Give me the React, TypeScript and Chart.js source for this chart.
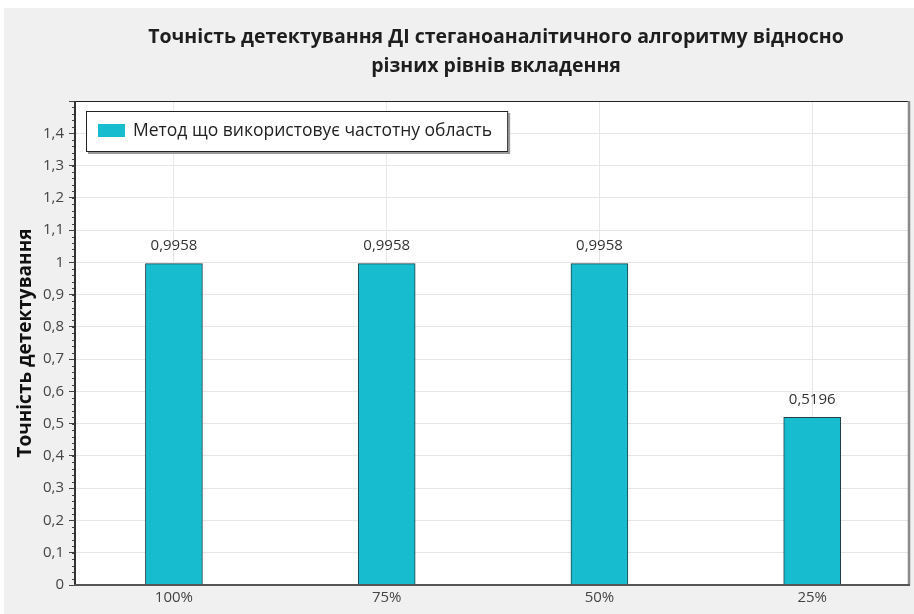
import React, { useEffect, useRef } from "react";
import { Chart, registerables } from "chart.js";

Chart.register(...registerables);

const titleLines = [
  "Точність детектування ДІ стеганоаналітичного алгоритму відносно",
  "різних рівнів вкладення",
];
const categories = ["100%", "75%", "50%", "25%"];
const seriesLabel = "Метод що використовує частотну область";
const seriesValues = [0.9958, 0.9958, 0.9958, 0.5196];
const yAxisTitle = "Точність детектування";
const yMin = 0;
const yMax = 1.5;
const yStep = 0.1;
const yMinorStep = 0.02;
const xMin = -0.465;
const xMax = 3.455;

const FONT = "'Open Sans', 'Noto Sans', sans-serif";
const BAR_COLOR = "#17bdcf";
const BAR_BORDER = "#1d3f45";

const fmt = (v: number, d: number) => {
  const r = Math.round(v * Math.pow(10, d)) / Math.pow(10, d);
  return String(r).replace(".", ",");
};

const areaBgPlugin = {
  id: "areaBg",
  beforeDraw(chart: any) {
    const { ctx, chartArea: a } = chart;
    ctx.save();
    ctx.fillStyle = "#ffffff";
    ctx.fillRect(a.left, a.top, a.right - a.left, a.bottom - a.top);
    ctx.restore();
  },
};

const titlePlugin = {
  id: "customTitle",
  afterDraw(chart: any) {
    const { ctx, chartArea: a } = chart;
    const cx = (a.left + a.right) / 2 + 4;
    ctx.save();
    ctx.fillStyle = "#1e1e1e";
    ctx.font = `bold 19.5px ${FONT}`;
    ctx.textAlign = "center";
    ctx.textBaseline = "middle";
    ctx.fillText(titleLines[0], cx, 29);
    ctx.fillText(titleLines[1], cx, 58);
    ctx.restore();
  },
};

const framePlugin = {
  id: "frame",
  afterDatasetsDraw(chart: any) {
    const { ctx, chartArea: a } = chart;
    const ys = chart.scales.y;
    ctx.save();
    ctx.strokeStyle = "#444";
    ctx.lineWidth = 1;
    const n = Math.round((yMax - yMin) / yMinorStep);
    for (let i = 0; i <= n; i++) {
      const v = yMin + i * yMinorStep;
      const py = Math.round(ys.getPixelForValue(v)) + 0.5;
      ctx.beginPath();
      ctx.moveTo(a.left - 3, py);
      ctx.lineTo(a.left, py);
      ctx.stroke();
    }
    ctx.strokeStyle = "#222";
    ctx.lineWidth = 1;
    ctx.beginPath();
    ctx.moveTo(a.left, a.top + 0.5);
    ctx.lineTo(a.right, a.top + 0.5);
    ctx.stroke();
    ctx.strokeStyle = "#8a8a8a";
    ctx.lineWidth = 2.5;
    ctx.beginPath();
    ctx.moveTo(a.right, a.top);
    ctx.lineTo(a.right, a.bottom);
    ctx.stroke();
    ctx.strokeStyle = "#333";
    ctx.lineWidth = 2;
    ctx.beginPath();
    ctx.moveTo(a.left, a.top);
    ctx.lineTo(a.left, a.bottom + 1);
    ctx.stroke();
    ctx.strokeStyle = "#555";
    ctx.lineWidth = 2;
    ctx.beginPath();
    ctx.moveTo(a.left - 1, a.bottom);
    ctx.lineTo(a.right + 1, a.bottom);
    ctx.stroke();
    ctx.restore();
  },
};

const valueLabelPlugin = {
  id: "valueLabels",
  afterDatasetsDraw(chart: any) {
    const { ctx } = chart;
    const meta = chart.getDatasetMeta(0);
    ctx.save();
    ctx.fillStyle = "#333";
    ctx.font = `15px ${FONT}`;
    ctx.textAlign = "center";
    ctx.textBaseline = "bottom";
    meta.data.forEach((el: any, i: number) => {
      ctx.fillText(fmt(seriesValues[i], 4), el.x, el.y - 10);
    });
    ctx.restore();
  },
};

const legendPlugin = {
  id: "boxLegend",
  afterDraw(chart: any) {
    const { ctx, chartArea: a } = chart;
    const ds = chart.data.datasets[0];
    ctx.save();
    ctx.font = `17.5px ${FONT}`;
    const tw = ctx.measureText(ds.label).width;
    const x = a.left + 11;
    const y = a.top + 10;
    const h = 41;
    const w = 12 + 27 + 8 + tw + 16;
    ctx.fillStyle = "#9a9a9a";
    ctx.fillRect(x + 2, y + 2, w, h);
    ctx.fillStyle = "#ffffff";
    ctx.fillRect(x, y, w, h);
    ctx.strokeStyle = "#222";
    ctx.lineWidth = 1;
    ctx.strokeRect(x + 0.5, y + 0.5, w - 1, h - 1);
    ctx.fillStyle = ds.backgroundColor;
    ctx.fillRect(x + 12, y + 13, 27, 13);
    ctx.fillStyle = "#222";
    ctx.textAlign = "left";
    ctx.textBaseline = "middle";
    ctx.fillText(ds.label, x + 12 + 27 + 8, y + h / 2);
    ctx.restore();
  },
};

export default function App() {
  const ref = useRef<HTMLCanvasElement | null>(null);

  useEffect(() => {
    if (!ref.current) return;
    const chart = new Chart(ref.current, {
      type: "bar",
      data: {
        datasets: [
          {
            label: seriesLabel,
            data: seriesValues.map((v, i) => ({ x: i, y: v })),
            backgroundColor: BAR_COLOR,
            borderColor: BAR_BORDER,
            borderWidth: 1,
            barThickness: 57,
          },
        ],
      },
      options: {
        animation: false,
        responsive: false,
        layout: { padding: { top: 93, right: 5, left: 0, bottom: 0 } },
        plugins: {
          legend: { display: false },
          title: { display: false },
          tooltip: { enabled: false },
        },
        scales: {
          x: {
            type: "linear",
            min: xMin,
            max: xMax,
            offset: false,
            afterBuildTicks: (s: any) => {
              s.ticks = categories.map((_, i) => ({ value: i }));
            },
            afterFit: (s: any) => {
              s.height = 29;
            },
            border: { display: false },
            grid: {
              display: true,
              offset: false,
              color: "#e6e6e6",
              drawTicks: false,
            },
            ticks: {
              color: "#444",
              font: { family: FONT, size: 15 },
              padding: 4,
              callback: (v: any) => categories[Math.round(Number(v))] ?? "",
            },
          },
          y: {
            min: yMin,
            max: yMax,
            afterFit: (s: any) => {
              s.width = 71;
            },
            border: { display: false },
            grid: {
              color: "#e6e6e6",
              tickColor: "#444",
              tickLength: 6,
            },
            ticks: {
              stepSize: yStep,
              color: "#444",
              font: { family: FONT, size: 15 },
              padding: 5,
              callback: (v: any) => {
                const n = Number(v);
                if (n > yMax - 1e-6) return "";
                return fmt(n, 1);
              },
            },
            title: {
              display: true,
              text: yAxisTitle,
              color: "#111",
              font: { family: FONT, size: 19, weight: "bold" },
              padding: { top: 10, bottom: 0 },
            },
          },
        },
      },
      plugins: [areaBgPlugin, framePlugin, valueLabelPlugin, legendPlugin, titlePlugin],
    } as any);
    return () => chart.destroy();
  }, []);

  return (
    <div
      style={{
        position: "absolute",
        left: 4,
        top: 8,
        width: 910,
        height: 606,
        background: "#f0f0f0",
      }}
    >
      <canvas ref={ref} width={910} height={606} style={{ display: "block" }} />
    </div>
  );
}
